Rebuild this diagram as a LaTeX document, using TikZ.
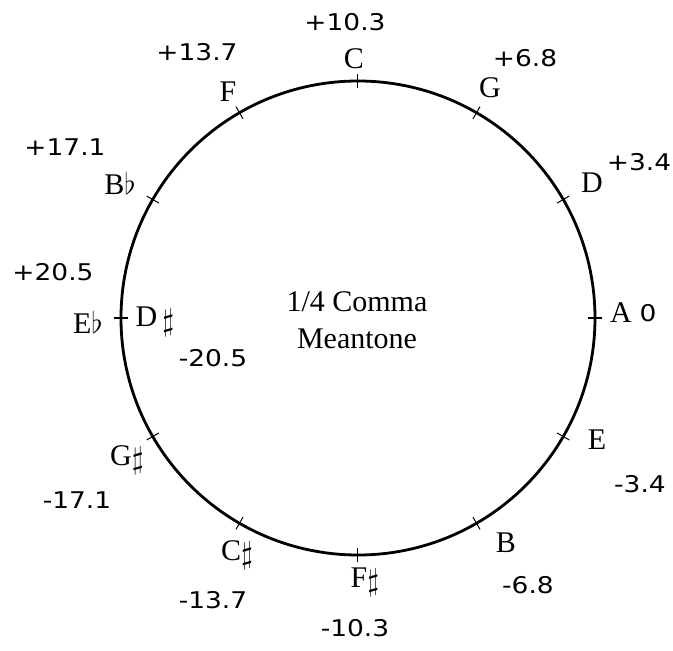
\documentclass[tikz,border=0pt]{standalone}
\usepackage{fontspec}
\setmainfont{Liberation Serif}
\newfontfamily\numfont[FakeStretch=1.15]{DejaVu Sans}
\usepackage{tikz}
\newcommand{\shp}{\raisebox{-0.12em}{\scalebox{1.25}{$\sharp$}}}
\newcommand{\flt}{\scalebox{1.2}{$\flat$}}

\begin{document}
\begin{tikzpicture}[
    x=1pt, y=1pt,
    note/.style={
        inner sep=0pt,
        font=\fontsize{30}{32}\selectfont
    },
    cents/.style={
        inner sep=0pt,
        font=\numfont\fontsize{23}{26}\selectfont
    },
    title/.style={
        align=center,
        inner sep=0pt,
        font=\fontsize{30}{37}\selectfont
    },
    ring/.style={line width=2.8pt},
    tickmark/.style={line width=1pt}
]
\useasboundingbox (-358,-333) rectangle (315,318);

% The circle of fifths
\draw[ring] (0,0) circle (237);
\foreach \a in {0,30,...,330}
    \draw[tickmark] (\a:230) -- (\a:244);

% Centre text
\node[title] (name) at (-1,-2) {1/4 Comma\\Meantone};

% Note names
\node[note] (nC) at (-4,259) {C};
\node[note] (nG) at (132,230) {G};
\node[note] (nD) at (234,135) {D};
\node[note] (nA) at (263,5) {A};
\node[note] (nE) at (239,-122) {E};
\node[note] (nB) at (148,-225) {B};
\node[note] (nFs) at (7,-264) {F\shp};
\node[note] (nCs) at (-121,-237) {C\shp};
\node[note] (nGs) at (-231,-142) {G\shp};
\node[note] (nEb) at (-270,-4) {E\flt};
\node[note] (nDs) at (-203,-4) {D\,\shp};
\node[note] (nBb) at (-238,135) {B\flt};
\node[note] (nF) at (-130,226) {F};

% Deviations
\node[cents] (cC) at (-13,296) {+10.3};
\node[cents] (cG) at (167,260) {+6.8};
\node[cents] (cD) at (281,156) {+3.4};
\node[cents] (cA) at (290,5) {0};
\node[cents] (cE) at (282,-166) {-3.4};
\node[cents] (cB) at (170,-267) {-6.8};
\node[cents] (cFs) at (-3,-310) {-10.3};
\node[cents] (cCs) at (-145,-282) {-13.7};
\node[cents] (cGs) at (-281,-182) {-17.1};
\node[cents] (cDs) at (-145,-40) {-20.5};
\node[cents] (cEb) at (-305,46) {+20.5};
\node[cents] (cBb) at (-293,171) {+17.1};
\node[cents] (cF) at (-161,266) {+13.7};

\end{tikzpicture}
\end{document}
